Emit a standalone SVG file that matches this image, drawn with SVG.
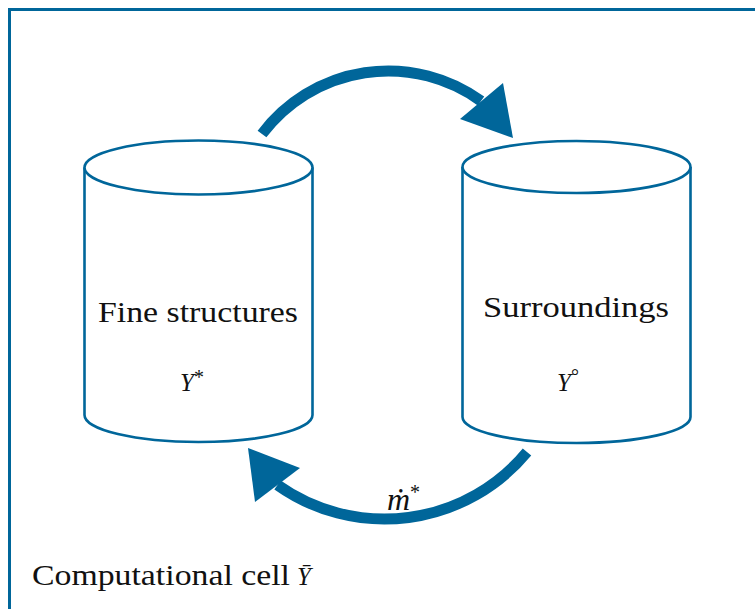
<svg xmlns="http://www.w3.org/2000/svg" width="755" height="609" viewBox="0 0 755 609">
<style>
.frame{fill:none;stroke:#00669a;stroke-width:3}
.cyl{fill:#fff;stroke:#00669a;stroke-width:2.6}
.flow{fill:none;stroke:#00669a;stroke-width:11}
.head{fill:#00669a;stroke:none}
.lbl{font-family:"Liberation Serif","Times New Roman",serif;font-size:30px;fill:#111;text-anchor:middle}
.math{font-family:"Liberation Serif","Times New Roman",serif;font-style:italic;font-size:25px;fill:#111}
.sup{font-style:normal;font-size:20px}
</style>
<rect class="frame" x="9.5" y="9.5" width="760" height="620"/>
<g id="fine">
<path class="cyl" d="M84.5 167.5 V415 A114 27 0 0 0 312.5 415 V167.5"/>
<ellipse class="cyl" cx="198.5" cy="167.5" rx="114" ry="27"/>
<text class="lbl" x="198" y="322" textLength="200" lengthAdjust="spacingAndGlyphs">Fine structures</text>
<text class="math" x="180" y="391">Y<tspan class="sup" dy="-7">*</tspan></text>
</g>
<g id="surr">
<path class="cyl" d="M462.5 167 V417 A114 26 0 0 0 690.5 417 V167"/>
<ellipse class="cyl" cx="576.5" cy="167" rx="114" ry="26"/>
<text class="lbl" x="576" y="317" textLength="186" lengthAdjust="spacingAndGlyphs">Surroundings</text>
<text class="math" x="557" y="391">Y<tspan class="sup" dy="-8">°</tspan></text>
</g>
<g id="connectors">
<path class="flow" d="M262 134 A158 158 0 0 1 481 101"/>
<polygon class="head" points="513,138 503,83 460,119"/>
<path class="flow" d="M527 452 A185 185 0 0 1 277.5 485"/>
<polygon class="head" points="248,448 300,468 255,502"/>
<text class="math" x="387" y="510" style="font-size:32px">ṁ<tspan class="sup" dy="-11">*</tspan></text>
</g>
<g id="caption">
<text class="lbl" x="32" y="585" style="text-anchor:start" textLength="258" lengthAdjust="spacingAndGlyphs">Computational cell</text>
<text class="math" x="297" y="585">Ȳ</text>
</g>
</svg>
